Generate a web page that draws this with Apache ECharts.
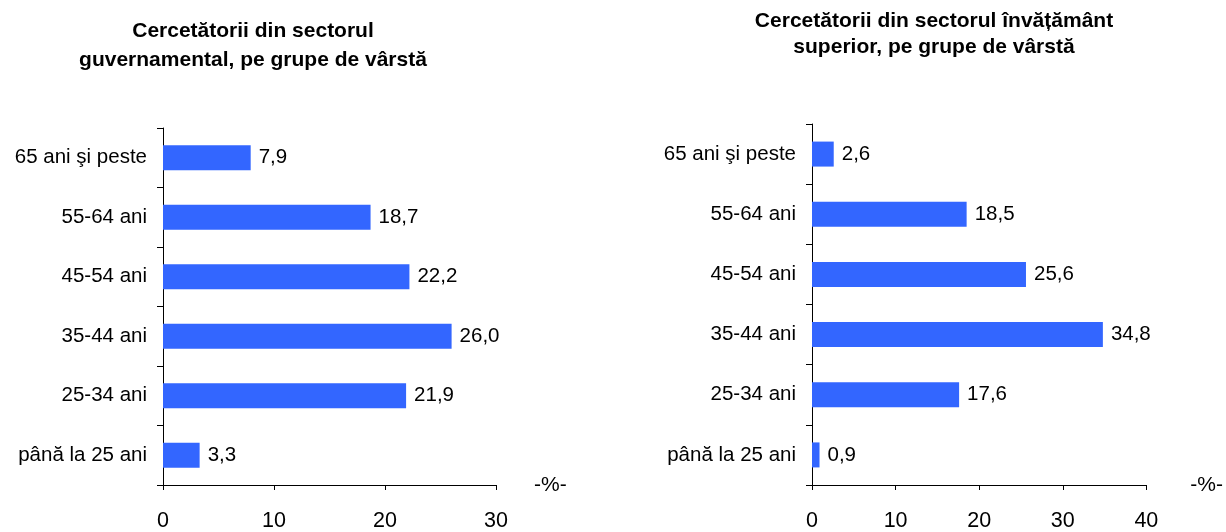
<!DOCTYPE html>
<html>
<head>
<meta charset="utf-8">
<script src="https://cdn.jsdelivr.net/npm/echarts@6/dist/echarts.min.js"></script>
<style>
html,body{margin:0;padding:0;background:#fff;}
#c{width:1226px;height:532px;}
</style>
</head>
<body>
<div id="c"></div>
<script>
const categories = ['până la 25 ani','25-34 ani','35-44 ani','45-54 ani','55-64 ani','65 ani şi peste'];
const govValues = [3.3, 21.9, 26.0, 22.2, 18.7, 7.9];
const eduValues = [0.9, 17.6, 34.8, 25.6, 18.5, 2.6];
const govTitle = 'Cercetătorii din sectorul\nguvernamental, pe grupe de vârstă';
const eduTitle = 'Cercetătorii din sectorul învățământ\nsuperior, pe grupe de vârstă';
const unitLabel = '-%-';

const FONT = '"Liberation Sans", Arial, sans-serif';
const fmt = v => v.toFixed(1).replace('.', ',');

function xAxisCfg(gi, max, gap) {
  return {
    gridIndex: gi, type: 'value', min: 0, max: max, interval: 10,
    name: unitLabel, nameLocation: 'end', nameGap: gap,
    nameTextStyle: {fontFamily: FONT, fontSize: 21, color: '#000', align: 'left', padding: [0,0,4,0]},
    splitLine: {show: false},
    axisLine: {show: true, lineStyle: {color: '#000', width: 1}},
    axisTick: {show: true, length: 5, lineStyle: {color: '#000'}},
    axisLabel: {fontFamily: FONT, fontSize: 21.5, color: '#000', margin: 25}
  };
}
function yAxisCfg(gi) {
  return {
    gridIndex: gi, type: 'category', data: categories,
    axisLine: {show: true, lineStyle: {color: '#000', width: 1}},
    axisTick: {show: true, length: 6, lineStyle: {color: '#000'}},
    axisLabel: {fontFamily: FONT, fontSize: 20.5, color: '#000', margin: 16}
  };
}
function seriesCfg(gi, data) {
  return {
    type: 'bar', xAxisIndex: gi, yAxisIndex: gi, data: data,
    barWidth: 25, itemStyle: {color: '#3366FF'},
    label: {show: true, position: 'right', distance: 8, fontFamily: FONT, fontSize: 20.5, color: '#000', formatter: p => fmt(p.value)},
    animation: false
  };
}

const chart = echarts.init(document.getElementById('c'), null, {renderer: 'canvas'});
chart.setOption({
  animation: false,
  backgroundColor: '#fff',
  title: [
    {text: govTitle, left: 248, top: 12, textAlign: 'center',
     textStyle: {fontFamily: FONT, fontSize: 21, fontWeight: 'bold', color: '#000', lineHeight: 29}},
    {text: eduTitle, left: 929, top: 3, textAlign: 'center',
     textStyle: {fontFamily: FONT, fontSize: 21, fontWeight: 'bold', color: '#000', lineHeight: 26}}
  ],
  grid: [
    {left: 163, width: 333, top: 128, height: 368, containLabel: false},
    {left: 812, width: 337, top: 124, height: 372, containLabel: false}
  ],
  xAxis: [xAxisCfg(0, 30, 38), xAxisCfg(1, 40, 44)],
  yAxis: [yAxisCfg(0), yAxisCfg(1)],
  series: [seriesCfg(0, govValues), seriesCfg(1, eduValues)]
});
</script>
</body>
</html>
